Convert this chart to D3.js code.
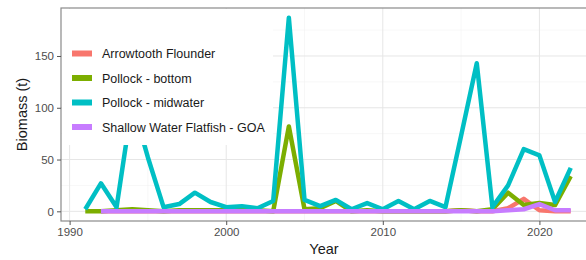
<!DOCTYPE html>
<html>
<head>
<meta charset="utf-8">
<script src="https://cdn.jsdelivr.net/npm/d3@7"></script>
<style>
  body { margin: 0; background: #fff; }
  svg { display: block; font-family: "Liberation Sans", Arial, sans-serif; }
</style>
</head>
<body>
<div id="chart"></div>
<script>
const years = d3.range(1991, 2023);
const seriesNames = ["Arrowtooth Flounder", "Pollock - bottom", "Pollock - midwater", "Shallow Water Flatfish - GOA"];
const seriesColors = ["#F8766D", "#7CAE00", "#00BFC4", "#C77CFF"];

const arrowtooth = [null, 0, 0, 0, 0, 0, 0, 0, 0, 0, 0, 0, 0, 0, 0, 0, 0, 0, 0, 0, 0, 0, 0, 0, 1, 0, 0, 3, 12, 1, 0, 0];
const pollockBottom = [0, 0, 1, 2, 1, 0, 1, 1, 1, 1, 3, 1, 0, 82, 2, 3, 10, 0, 1, 0, 0, 0, 0, 0, 1, 0, 2, 18, 6, 8, 6, 34];
const pollockMid = [2, 27, 4, 105, 52, 4, 7, 18, 9, 4, 5, 3, 10, 187, 11, 5, 11, 2, 8, 2, 10, 2, 10, 4, 73, 143, 4, 25, 60, 54, 9, 42];
const shallowFlat = [null, 0, 0, 0, 0, 0, 0, 0, 0, 0, 0, 0, 0, 0, 0, 0, 0, 0, 0, 0, 0, 0, 0, 0, 0, 0, 0, 1, 2, 7, 1, 1];

const xMajor = [1990, 2000, 2010, 2020];
const xMinor = [1995, 2005, 2015];
const yMajor = [0, 50, 100, 150];
const yMinor = [25, 75, 125, 175];

const WIDTH = 586, HEIGHT = 260;
const PANEL = { LEFT: 61, TOP: 8, RIGHT: 595, BOTTOM: 221 };

const svg = d3.select("#chart").append("svg")
  .attr("width", WIDTH)
  .attr("height", HEIGHT);

const x = d3.scaleLinear().domain([1989.45, 2023.55]).range([PANEL.LEFT, PANEL.RIGHT]);
const y = d3.scaleLinear().domain([-9.35, 196.35]).range([PANEL.BOTTOM, PANEL.TOP]);

// grid
const grid = svg.append("g");
grid.selectAll(".ymin").data(yMinor).enter().append("line")
  .attr("x1", PANEL.LEFT).attr("x2", PANEL.RIGHT)
  .attr("y1", d => y(d)).attr("y2", d => y(d))
  .attr("stroke", "#F2F2F2").attr("stroke-width", 0.6);
grid.selectAll(".xmin").data(xMinor).enter().append("line")
  .attr("y1", PANEL.TOP).attr("y2", PANEL.BOTTOM)
  .attr("x1", d => x(d)).attr("x2", d => x(d))
  .attr("stroke", "#F2F2F2").attr("stroke-width", 0.6);
grid.selectAll(".ymaj").data(yMajor).enter().append("line")
  .attr("x1", PANEL.LEFT).attr("x2", PANEL.RIGHT)
  .attr("y1", d => y(d)).attr("y2", d => y(d))
  .attr("stroke", "#E6E6E6").attr("stroke-width", 1);
grid.selectAll(".xmaj").data(xMajor).enter().append("line")
  .attr("y1", PANEL.TOP).attr("y2", PANEL.BOTTOM)
  .attr("x1", d => x(d)).attr("x2", d => x(d))
  .attr("stroke", "#E6E6E6").attr("stroke-width", 1);

// lines
const allSeries = [arrowtooth, pollockBottom, pollockMid, shallowFlat];
const line = d3.line()
  .defined(d => d.v !== null)
  .x(d => x(d.year))
  .y(d => y(d.v));

svg.append("g").selectAll("path")
  .data(allSeries)
  .enter()
  .append("path")
  .attr("d", vals => line(vals.map((v, i) => ({ year: years[i], v: v }))))
  .attr("fill", "none")
  .attr("stroke", (d, i) => seriesColors[i])
  .attr("stroke-width", 4.5)
  .attr("stroke-linejoin", "round");

// legend (white box covers the lines beneath it)
const legend = svg.append("g");
legend.append("rect")
  .attr("x", PANEL.LEFT + 1).attr("y", PANEL.TOP + 1)
  .attr("width", 211).attr("height", 136)
  .attr("fill", "#fff");
const legendItems = legend.selectAll(".item")
  .data(seriesNames)
  .enter()
  .append("g")
  .attr("transform", (d, i) => `translate(72, ${53.5 + i * 24.5})`);
legendItems.append("line")
  .attr("x1", 0).attr("x2", 20)
  .attr("stroke", (d, i) => seriesColors[i])
  .attr("stroke-width", 6);
legendItems.append("text")
  .attr("x", 30).attr("y", 4.5)
  .style("font-size", "12.5px")
  .attr("fill", "#1a1a1a")
  .text(d => d);

// panel border
svg.append("rect")
  .attr("x", PANEL.LEFT).attr("y", PANEL.TOP)
  .attr("width", PANEL.RIGHT - PANEL.LEFT).attr("height", PANEL.BOTTOM - PANEL.TOP)
  .attr("fill", "none").attr("stroke", "#8a8a8a").attr("stroke-width", 1.2);

// axes
const xAxis = svg.append("g")
  .attr("transform", `translate(0, ${PANEL.BOTTOM})`)
  .call(d3.axisBottom(x).tickValues(xMajor).tickFormat(d3.format("d")).tickSize(4).tickPadding(3));
const yAxis = svg.append("g")
  .attr("transform", `translate(${PANEL.LEFT}, 0)`)
  .call(d3.axisLeft(y).tickValues(yMajor).tickSize(4).tickPadding(3));
[xAxis, yAxis].forEach(a => {
  a.select(".domain").remove();
  a.selectAll(".tick line").attr("stroke", "#555");
  a.selectAll(".tick text").attr("fill", "#4D4D4D")
    .style("font-size", "11.5px").style("font-family", "Liberation Sans, Arial, sans-serif");
});

svg.append("text")
  .attr("x", (PANEL.LEFT + 595) / 2 - 4).attr("y", 254)
  .attr("text-anchor", "middle")
  .style("font-size", "14.5px")
  .attr("fill", "#1a1a1a")
  .text("Year");

svg.append("text")
  .attr("transform", `translate(27, ${(PANEL.TOP + PANEL.BOTTOM) / 2}) rotate(-90)`)
  .attr("text-anchor", "middle")
  .style("font-size", "14.5px")
  .attr("fill", "#1a1a1a")
  .text("Biomass (t)");
</script>
</body>
</html>
